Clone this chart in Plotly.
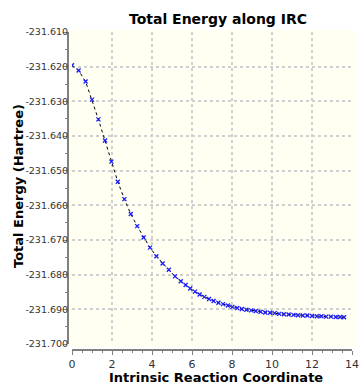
import plotly.graph_objects as go

irc = [0.0, 0.33, 0.68, 1.0, 1.32, 1.65, 1.97, 2.29, 2.62, 2.94, 3.26, 3.58, 3.9, 4.22,
       4.53, 4.84, 5.15, 5.44, 5.68, 5.91, 6.15, 6.38, 6.62, 6.85, 7.08, 7.32, 7.55, 7.79,
       8.02, 8.26, 8.49, 8.72, 8.96, 9.19, 9.43, 9.66, 9.9, 10.13, 10.36, 10.6, 10.83,
       11.07, 11.3, 11.54, 11.77, 12.0, 12.24, 12.47, 12.71, 12.94, 13.18, 13.41, 13.6]
energy = [-231.6196, -231.6211, -231.6243, -231.6295, -231.6352, -231.6413, -231.6474,
          -231.6532, -231.6582, -231.6625, -231.6660, -231.6693, -231.6722, -231.6747,
          -231.6768, -231.6786, -231.6805, -231.6819, -231.6830, -231.6840, -231.6849,
          -231.6857, -231.6864, -231.6870, -231.6876, -231.6881, -231.6885, -231.6889,
          -231.6893, -231.6896, -231.6899, -231.6901, -231.6903, -231.6905, -231.6907,
          -231.6909, -231.6910, -231.6911, -231.6913, -231.6914, -231.6915, -231.6916,
          -231.6917, -231.6918, -231.6918, -231.6919, -231.6920, -231.6920, -231.6921,
          -231.6921, -231.6922, -231.6922, -231.6923]

x_ticks = [0, 2, 4, 6, 8, 10, 12, 14]
y_ticks = [-231.70, -231.69, -231.68, -231.67, -231.66, -231.65, -231.64, -231.63, -231.62, -231.61]
y_labels = [f"{v:.3f}" for v in y_ticks]

FONT = "DejaVu Sans"

fig = go.Figure()
fig.add_trace(go.Scatter(x=irc, y=energy, mode="lines",
                         line=dict(color="black", width=1, dash="3px,3px"),
                         hoverinfo="skip", showlegend=False))
fig.add_trace(go.Scatter(x=irc, y=energy, mode="markers",
                         marker=dict(symbol="x-thin-open", size=4, color="#1a1aff",
                                     line=dict(color="#1a1aff", width=1.3)),
                         showlegend=False))

W, H = 364, 386
ml, mr, mt, mb = 68, 12, 32, 36
pw = W - ml - mr
ph = H - mt - mb
xd0 = 4 / pw
yd0 = 6 / ph

fig.update_layout(
    width=W, height=H,
    margin=dict(l=ml, r=mr, t=mt, b=mb),
    paper_bgcolor="white",
    plot_bgcolor="#fffff2",
    font=dict(family=FONT, size=10, color="#333333"),
    title=dict(text="<b>Total Energy along IRC</b>", x=218 / W, xanchor="center",
               y=1 - 19 / H, yanchor="middle",
               font=dict(family=FONT, size=14, color="black")),
    xaxis=dict(domain=[xd0, 1], range=[0, 14], anchor="free", position=0, automargin=False,
               tickvals=x_ticks, ticktext=[str(v) for v in x_ticks],
               ticks="outside", ticklen=4, tickcolor="#808080", tickwidth=1,
               minor=dict(dtick=0.5, ticks="outside", ticklen=2, tickcolor="#808080", showgrid=False),
               showline=True, linecolor="#808080", linewidth=2,
               showgrid=True, gridcolor="#d0d0d0", griddash="3px,3px", gridwidth=1.5,
               zeroline=False,
               tickfont=dict(family=FONT, size=11, color="#333333")),
    yaxis=dict(domain=[yd0, 1], range=[-231.70, -231.61], anchor="free", position=0, automargin=False,
               tickvals=y_ticks, ticktext=y_labels,
               ticks="outside", ticklen=4, tickcolor="#808080", tickwidth=1,
               ticklabelstandoff=-7,
               minor=dict(dtick=0.005, tick0=-231.70, ticks="outside", ticklen=2, tickcolor="#808080", showgrid=False),
               showline=True, linecolor="#808080", linewidth=2,
               showgrid=True, gridcolor="#d0d0d0", griddash="3px,3px", gridwidth=1.5,
               zeroline=False,
               tickfont=dict(family=FONT, size=9.5, color="#333333")),
)

fig.add_shape(type="rect", xref="paper", yref="paper",
              x0=2 / pw, x1=1 + 3 / pw, y0=3 / ph, y1=1 + 2 / ph,
              fillcolor="#fffff2", line=dict(width=0), layer="below")

# axis titles placed in pixel terms relative to the plot area
fig.add_annotation(text="<b>Intrinsic Reaction Coordinate</b>", xref="paper", yref="paper",
                   x=(216 - ml) / pw, y=-(377 - (H - mb)) / ph, xanchor="center", yanchor="middle",
                   showarrow=False, font=dict(family=FONT, size=13, color="black"))
fig.add_annotation(text="<b>Total Energy (Hartree)</b>", xref="paper", yref="paper",
                   x=-(ml - 18) / pw, y=((H - mb) - 186) / ph, xanchor="center", yanchor="middle",
                   textangle=-90, showarrow=False, font=dict(family=FONT, size=13, color="black"))

fig.write_html("out.html")
